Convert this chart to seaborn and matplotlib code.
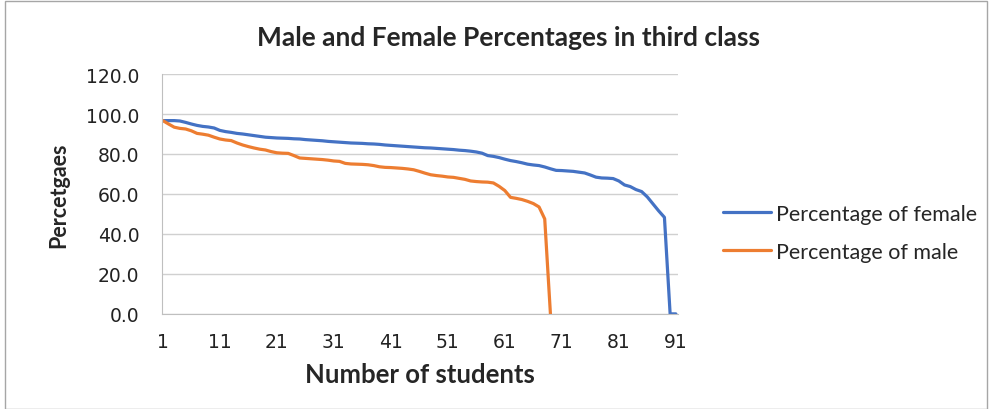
import numpy as np
import pandas as pd
import seaborn as sns
import matplotlib.pyplot as plt
from matplotlib.patches import Rectangle

# values
female = [96.7, 96.7, 96.7, 96.5, 95.8, 95.0, 94.3, 93.8, 93.5, 93.0,
          91.8, 91.2, 90.8, 90.3, 90.0, 89.6, 89.2, 88.8, 88.4, 88.2,
          88.0, 87.9, 87.8, 87.6, 87.5, 87.2, 87.0, 86.8, 86.6, 86.3,
          86.1, 85.9, 85.7, 85.5, 85.4, 85.3, 85.1, 85.0, 84.8, 84.5,
          84.3, 84.1, 83.9, 83.7, 83.5, 83.3, 83.1, 83.0, 82.8, 82.6,
          82.4, 82.2, 81.9, 81.7, 81.4, 81.0, 80.4, 79.2, 78.8, 78.2,
          77.4, 76.7, 76.2, 75.6, 74.9, 74.5, 74.2, 73.5, 72.6, 71.8,
          71.7, 71.5, 71.3, 70.9, 70.5, 69.5, 68.4, 68.0, 67.9, 67.7,
          66.5, 64.5, 63.7, 62.2, 61.2, 58.5, 55.0, 51.5, 48.3, 0.0,
          0.0]
male = [96.7, 95.0, 93.4, 92.8, 92.5, 91.6, 90.3, 89.9, 89.4, 88.4,
        87.5, 87.0, 86.7, 85.5, 84.5, 83.7, 83.0, 82.4, 82.0, 81.2,
        80.6, 80.4, 80.3, 79.2, 78.0, 77.8, 77.6, 77.4, 77.2, 76.9,
        76.5, 76.3, 75.3, 75.0, 74.9, 74.8, 74.6, 74.2, 73.6, 73.3,
        73.2, 73.0, 72.8, 72.5, 72.1, 71.3, 70.4, 69.6, 69.2, 68.9,
        68.5, 68.3, 67.8, 67.3, 66.5, 66.2, 66.0, 65.9, 65.5, 63.8,
        61.7, 58.3, 57.8, 57.2, 56.3, 55.2, 53.5, 47.5, 0.0]
series_names = ["Percentage of female", "Percentage of male"]
x_ticks = [1, 11, 21, 31, 41, 51, 61, 71, 81, 91]
y_ticks = [0, 20, 40, 60, 80, 100, 120]

df = pd.concat([
    pd.DataFrame({"student": np.arange(1, len(female) + 1), "pct": female, "series": series_names[0]}),
    pd.DataFrame({"student": np.arange(1, len(male) + 1), "pct": male, "series": series_names[1]}),
])

sns.set_style("white")
plt.rcParams['font.family'] = ['Lato', 'DejaVu Sans']

fig = plt.figure(figsize=(9.92, 4.10), dpi=100)
ax = fig.add_axes([0.163, 0.232, 0.520, 0.585])
# thin grey frame around the whole chart
fig.patches.append(Rectangle((0.005, 0.0), 0.99, 0.995, transform=fig.transFigure,
                             fill=False, edgecolor='#a6a6a6', lw=1))

sns.lineplot(data=df, x="student", y="pct", hue="series", ax=ax,
             palette=["#4472C4", "#ED7D31"], linewidth=2.3)

ax.set_xlim(0.8, 91.3)
ax.set_ylim(0, 120)
ax.set_xticks(x_ticks, [str(v) for v in x_ticks], fontfamily='DejaVu Sans', fontsize=13.5)
ax.set_yticks(y_ticks, [f"{v:.1f}" for v in y_ticks], fontfamily='DejaVu Sans', fontsize=13.5)
ax.tick_params(axis='both', length=0, colors='#222222')
ax.tick_params(axis='y', pad=16)
ax.tick_params(axis='x', pad=13)
ax.grid(axis='y', color='#d0d0d0', lw=1)
for s in ['top', 'right']:
    ax.spines[s].set_visible(False)
for s in ['left', 'bottom']:
    ax.spines[s].set_color('#bfbfbf')

ax.set_xlabel("Number of students", fontsize=18.5, fontweight='bold', va='center')
ax.xaxis.set_label_coords(0.5, -0.25)
ax.set_ylabel("Percetgaes", fontsize=15.5, fontweight='bold', va='center')
ax.yaxis.set_label_coords(-0.2, 0.5)
fig.text(0.513, 0.907, "Male and Female Percentages in third class",
         ha='center', va='center', fontsize=19, fontweight='bold')

ax.legend(title=None, frameon=False, loc='center left', bbox_to_anchor=(0.7202, 0.43),
          bbox_transform=fig.transFigure, borderaxespad=0,
          fontsize=15.5, handlelength=2.23, handletextpad=0.23, labelspacing=0.82)

fig.savefig("out.png", dpi=100)
